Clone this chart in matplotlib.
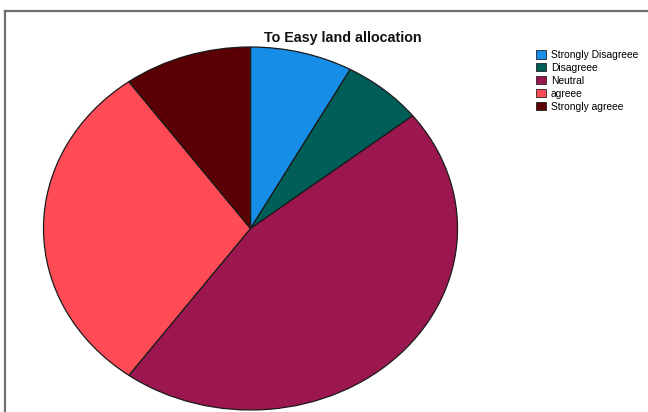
import matplotlib
matplotlib.use("Agg")
import matplotlib.pyplot as plt
from matplotlib.patches import Patch
from matplotlib.lines import Line2D

plt.rcParams['font.family'] = ['Liberation Sans', 'DejaVu Sans']

title = "To Easy land allocation"
categories = ["Strongly Disagreee", "Disagreee", "Neutral", "agreee", "Strongly agreee"]
counts = [24, 19, 137, 90, 30]
colors = ["#168ee8", "#005e58", "#9c1650", "#ff4b55", "#5a0005"]

W, H = 648, 412
fig = plt.figure(figsize=(W / 100, H / 100), dpi=100)
fig.patch.set_facecolor("white")

# outer frame (top and left edges visible)
frame_x = 4.5 / W
frame_y = 1 - 10.5 / H
fig.add_artist(Line2D([frame_x, 1.0], [frame_y, frame_y], transform=fig.transFigure,
                      color="#6e6e6e", lw=1.6))
fig.add_artist(Line2D([frame_x, frame_x], [0, frame_y], transform=fig.transFigure,
                      color="#6e6e6e", lw=1.6))

# pie axes stretched into an ellipse
left_px, right_px, top_px, bottom_px = 43.5, 457.5, 47, 410
ax = fig.add_axes([left_px / W, 1 - bottom_px / H,
                   (right_px - left_px) / W, (bottom_px - top_px) / H])
ax.pie(counts, colors=colors, startangle=90, counterclock=False,
       wedgeprops=dict(edgecolor="#1a1a1a", linewidth=0.9))
ax.set_aspect("auto")
ax.set_xlim(-1.0, 1.0)
ax.set_ylim(-1.0, 1.0)
ax.set_axis_off()

fig.text(343 / W, 1 - 38 / H, title, ha="center", va="center",
         fontsize=10.3, fontweight="bold", color="#111111")

handles = [Patch(facecolor=c, edgecolor="#222222", linewidth=0.6) for c in colors]
fig.legend(handles, categories, loc="upper left",
           bbox_to_anchor=(534 / W, 1 - 48 / H), frameon=False,
           fontsize=7.4, handlelength=1.0, handleheight=0.85,
           handletextpad=0.45, labelspacing=0.28, borderaxespad=0,
           borderpad=0.2)

fig.savefig("out.png", dpi=100, facecolor="white")
